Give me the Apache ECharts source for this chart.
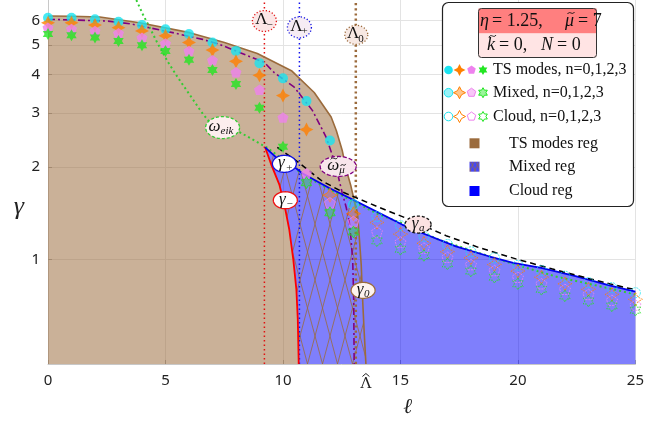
<!DOCTYPE html>
<html><head><meta charset="utf-8">
<script src="https://cdn.jsdelivr.net/npm/echarts@6/dist/echarts.min.js"></script>
<style>html,body{margin:0;padding:0;background:#fff}#c{width:647px;height:428px}</style>
</head><body><div id="c"></div>
<script>
// ---------- axes ----------
const xTicks = [0, 5, 10, 15, 20, 25];
const LAMBDA_HAT = 13.53;
const yTicks = [1, 2, 3, 4, 5, 6];
const YMIN = 0.457, YMAX = 7;
const lambdaMinus = 9.21, lambdaPlus = 10.70, lambda0 = 13.10;

// ---------- mode frequencies, l = 0..25 ----------
const ell = Array.from({length: 26}, (_, i) => i);
const mode0 = [6.13,6.13,6.06,5.95,5.80,5.62,5.42,5.09,4.78,4.36,3.89,3.28,2.44,1.51,1.38,1.29,1.19,1.12,1.06,1.013,0.958,0.921,0.883,0.841,0.810,0.780];
const mode1 = [5.90,5.90,5.80,5.69,5.55,5.35,5.09,4.81,4.42,3.98,3.42,2.65,1.62,1.41,1.32,1.21,1.13,1.06,1.013,0.963,0.917,0.876,0.834,0.800,0.770,0.742];
const mode2 = [5.69,5.63,5.55,5.46,5.28,5.05,4.78,4.46,4.07,3.57,2.90,1.91,1.53,1.33,1.23,1.14,1.09,1.017,0.963,0.921,0.876,0.834,0.800,0.770,0.737,0.711];
const mode3 = [5.42,5.37,5.28,5.15,4.99,4.78,4.47,4.14,3.73,3.12,2.33,1.78,1.42,1.23,1.15,1.08,1.03,0.968,0.917,0.876,0.834,0.800,0.761,0.733,0.706,0.684];
const mixedFrom = [13, 12, 12, 11];
const cloudFrom = [14, 14, 14, 14];

// ---------- curves [l, gamma] ----------
const J = [13.03, 1.56];
const tsBoundary = [[0,6.21],[1,6.20],[2.21,6.16],[3.9,5.90],[6.03,5.48],[7.51,5.09],[8.91,4.69],[10.36,4.12],[11.33,3.50],[12.05,2.91],[12.27,2.63],[12.52,2.27],[12.68,1.98],[12.88,1.75],J];
const gamma0 = [J,[13.17,1.42],[13.24,1.205],[13.33,0.963],[13.37,0.80],[13.45,0.593],[LAMBDA_HAT,YMIN]];
const gammaPlusUpper = [[9.24,2.32],[9.71,2.15],[10.57,1.98],[10.82,1.91],[11.97,1.71],J];
const gammaPlusLower = [J,[15.07,1.30],[15.92,1.22],[17.36,1.104],[18.76,1.025],[19.80,0.976],[20.99,0.94],[22.45,0.883],[23.85,0.826],[25,0.786]];
const gammaMinus = [[9.24,2.32],[9.51,2.03],[9.85,1.75],[10.06,1.51],[10.27,1.25],[10.44,1.0],[10.57,0.80],[10.63,0.64],[10.67,YMIN]];
const gammaA = [[9.76,2.32],[10.70,2.06],[11.67,1.80],[12.61,1.65],[14.01,1.488],[15.49,1.34],[16.94,1.196],[18.34,1.094],[19.91,1.005],[21.44,0.933],[23.0,0.868],[24.58,0.810],[25,0.80]];
const omegaMu = [[0,6.06],[2.5,5.98],[3.48,5.86],[5.31,5.48],[6.58,5.21],[7.30,5.02],[9.21,4.38],[9.63,4.06],[10.48,3.64],[11.25,3.06],[11.63,2.69],[11.84,2.50],[12.22,2.06],[12.52,1.65],[12.69,1.48],[12.82,1.33],[12.90,1.16],[12.97,0.985],[13.01,0.742],[13.03,YMIN]];
const omegaEik = [[3.76,7.0],[4.04,6.28],[4.33,5.69],[4.68,5.03],[5.11,4.39],[5.53,3.91],[6.59,2.98],[7.0,2.73],[8.15,2.60],[9.30,2.32],[10.14,2.08],[10.70,1.93],[11.67,1.74],[13.12,1.53],[14.09,1.40],[15.24,1.30],[16.64,1.16],[18.04,1.069],[19.61,0.978],[21.60,0.881],[23.13,0.830],[25,0.770]];

// ---------- annotations ----------
const annos = [
  {m:'Λ', s:'−', at:[9.21,5.98], rx:12, ry:10.5, fill:'#fce6e6', stroke:'#e01010', dash:[1.2,2], it:false, mdx:-3, sdx:2},
  {m:'Λ', s:'+', at:[10.70,5.70], rx:12, ry:10.5, fill:'#f6ecf4', stroke:'#1010e0', dash:[1.2,2], it:false, mdx:-3, sdx:2},
  {m:'Λ', s:'0', at:[13.12,5.39], rx:11.5, ry:9.5, fill:'#f7e8e2', stroke:'#9b6b3c', dash:[1.2,2], it:false, mdx:-3, sdx:2},
  {m:'ω', s:'eik', at:[7.43,2.69], rx:17, ry:11, fill:'#fdeeee', stroke:'#33cc33', dash:[3,2], it:true, mdx:-8, sdx:-2},
  {m:'ω', s:'μ', at:[12.35,2.01], rx:18, ry:10, fill:'#f8e6ec', stroke:'#800080', dash:[4,2], it:true, mdx:-5, sdx:1, tilde:true},
  {m:'γ', s:'+', at:[10.06,2.05], rx:12, ry:8.5, fill:'#ffffff', stroke:'#1010e0', dash:null, it:true, mdx:-3, sdx:1},
  {m:'γ', s:'−', at:[10.10,1.56], rx:12, ry:8.5, fill:'#ffffff', stroke:'#ee1010', dash:null, it:true, mdx:-3, sdx:1},
  {m:'γ', s:'0', at:[13.41,0.794], rx:12, ry:8, fill:'#fdf3ef', stroke:'#9b6b3c', dash:null, it:true, mdx:-3, sdx:1},
  {m:'γ', s:'a', at:[15.75,1.30], rx:13, ry:8.5, fill:'#fce2e2', stroke:'#111', dash:[3,2], it:true, mdx:-3, sdx:1}
];

// ---------- styles ----------
const BROWN = '#9b6b3c';
const SHAPES = {
  star4: [[0,-10],[3.4,-3.4],[10,0],[3.4,3.4],[0,10],[-3.4,3.4],[-10,0],[-3.4,-3.4]],
  pent: [[0,-10],[9.51,-3.09],[5.88,8.09],[-5.88,8.09],[-9.51,-3.09]],
  star6: [[0,-10],[2.887,-5],[8.66,-5],[5.774,0],[8.66,5],[2.887,5],[0,10],[-2.887,5],[-8.66,5],[-5.774,0],[-8.66,-5],[-2.887,-5]]
};
const toPath = pts => 'path://M' + pts.map(p => p[0] + ',' + p[1]).join('L') + 'Z';
const modes = [
  {vals: mode0, color:'#19e3f0', rgb:'25,227,240', sym:'circle', shape:null, size:10},
  {vals: mode1, color:'#ff8000', rgb:'255,128,0', sym:toPath(SHAPES.star4), shape:SHAPES.star4, size:14},
  {vals: mode2, color:'#ee82ee', rgb:'238,130,238', sym:toPath(SHAPES.pent), shape:SHAPES.pent, size:11},
  {vals: mode3, color:'#22e622', rgb:'34,230,34', sym:toPath(SHAPES.star6), shape:SHAPES.star6, size:12}
];

function hatch(w, h, bg, lw) {
  const c = document.createElement('canvas'); c.width = w; c.height = h;
  const g = c.getContext('2d');
  g.fillStyle = bg; g.fillRect(0, 0, w, h);
  g.strokeStyle = BROWN; g.lineWidth = lw;
  for (const dx of [-w, 0, w]) {
    g.beginPath(); g.moveTo(dx, 0); g.lineTo(dx + w, h); g.stroke();
    g.beginPath(); g.moveTo(dx + w, 0); g.lineTo(dx, h); g.stroke();
  }
  return c;
}
const hatchImg = hatch(15, 56, 'rgba(0,0,250,0.5)', 0.8);
const hatchLegend = hatch(5, 10, 'rgba(40,40,240,0.85)', 0.7);

const tsPoly = [[0,YMIN], ...tsBoundary, ...gammaPlusUpper.slice(0,-1).reverse().slice(0,-1), ...gammaMinus];
const mixedPoly = [...gammaMinus, ...gamma0.slice().reverse(), ...gammaPlusUpper.slice(1,-1).reverse()];
const cloudPoly = [...gamma0, [25,YMIN], ...gammaPlusLower.slice(1).reverse()];

function ellipsePts(cx, cy, rx, ry) {
  const out = [];
  for (let k = 0; k < 60; k++) { const t = k / 60 * 2 * Math.PI; out.push([cx + rx * Math.cos(t), cy + ry * Math.sin(t)]); }
  return out;
}
function tildeEl(cx, cy, w, z) {
  return {type:'bezierCurve', z: z,
    shape:{x1:cx - w / 2, y1:cy + 1, x2:cx + w / 2, y2:cy - 1, cpx1:cx - w / 6, cpy1:cy - 2.8, cpx2:cx + w / 6, cpy2:cy + 2.8},
    style:{stroke:'#111', lineWidth:0.9, fill:null}};
}
function polySeries(name, pts, fill) {
  return {
    type:'custom', name, silent:true, z:1, clip:true, data:[[0,1]],
    encode:{x:0, y:1},
    renderItem: (p, api) => ({type:'polygon', shape:{points: pts.map(q => api.coord(q))}, style:{fill, stroke:null}})
  };
}
function lineSeries(name, data, color, width, type, z) {
  return {type:'line', name, data, showSymbol:false, symbol:'none', silent:true, z: z || 3,
    lineStyle:{color, width, type}, animation:false};
}

const series = [
  polySeries('TS modes reg', tsPoly, 'rgba(155,107,60,0.53)'),
  polySeries('Mixed reg', mixedPoly, {image: hatchImg, repeat:'repeat'}),
  polySeries('Cloud reg', cloudPoly, 'rgba(0,0,250,0.5)'),
  lineSeries('Λ-', [[lambdaMinus,YMIN],[lambdaMinus,YMAX]], '#e01010', 1.5, [1.5,3]),
  lineSeries('Λ+', [[lambdaPlus,YMIN],[lambdaPlus,YMAX]], '#1010ee', 1.5, [1.5,3]),
  lineSeries('Λ0', [[lambda0,YMIN],[lambda0,YMAX]], BROWN, 2.5, [2.2,3]),
  lineSeries('ω_eik', omegaEik, '#33cc33', 2, [2,3]),
  lineSeries('ω_μ', omegaMu, '#800080', 1.6, [7,3,2,3]),
  lineSeries('TS boundary', [...tsBoundary, ...gamma0.slice(1)], BROWN, 1.6, 'solid'),
  lineSeries('γ-', gammaMinus, '#ff0000', 1.8, 'solid'),
  lineSeries('γ+', [...gammaPlusUpper, ...gammaPlusLower.slice(1)], '#0000ee', 1.8, 'solid'),
  lineSeries('γa', gammaA, '#000', 1.5, [6,4], 4)
];

modes.forEach((m, n) => {
  const pts = ell.map(l => [l, m.vals[l]]);
  const filled = pts.slice(0, mixedFrom[n]);
  const mixed = pts.slice(mixedFrom[n], cloudFrom[n]);
  const cloud = pts.slice(cloudFrom[n]);
  const base = {type:'scatter', symbol:m.sym, symbolSize:m.size, symbolKeepAspect:true, silent:true, z:5 + n * 0.1};
  series.push(Object.assign({}, base, {name:'TS n=' + n, data:filled, itemStyle:{color:m.color, borderWidth:0}}));
  series.push(Object.assign({}, base, {name:'Mixed n=' + n, data:mixed, itemStyle:{color:'rgba(' + m.rgb + ',0.45)', borderColor:m.color, borderWidth:1}}));
  series.push(Object.assign({}, base, {name:'Cloud n=' + n, data:cloud, itemStyle:{color:'rgba(255,255,255,0)', borderColor:m.color, borderWidth:1, borderType:[2,1]}}));
});

series.push({
  type:'custom', name:'labels', silent:true, z:10, clip:false,
  data: annos.map((a, i) => [a.at[0], a.at[1], i]), encode:{x:0, y:1},
  renderItem: (p, api) => {
    const a = annos[p.dataIndex];
    const c = api.coord([api.value(0), api.value(1)]);
    const font = a.it ? 'italic' : 'normal';
    const kids = [
      {type:'polygon', shape:{points: ellipsePts(c[0], c[1], a.rx, a.ry)},
       style:{fill:a.fill, stroke:a.stroke, lineWidth:1.3, lineDash:a.dash}},
      {type:'text', x:c[0] + a.mdx, y:c[1] - 1, style:{text:a.m, fill:'#111', fontFamily:'Liberation Serif', fontStyle:font, fontSize:17, align:'center', verticalAlign:'middle'}},
      {type:'text', x:c[0] + a.sdx, y:c[1] + 4, style:{text:a.s, fill:'#111', fontFamily:'Liberation Serif', fontStyle:font, fontSize:11, align:'left', verticalAlign:'middle'}}
    ];
    if (a.tilde) {
      kids.push(tildeEl(c[0] + a.mdx + 1, c[1] - 8, 7));
      kids.push(tildeEl(c[0] + a.sdx + 4, c[1] - 1.5, 5));
    }
    return {type:'group', children:kids};
  }
});
// hat over the Λ tick label
series.push({
  type:'custom', name:'hat', silent:true, z:10, clip:false, data:[[LAMBDA_HAT, YMIN]], encode:{x:0, y:1},
  renderItem: (p, api) => {
    const c = api.coord([api.value(0), api.value(1)]);
    return {type:'polyline', shape:{points:[[c[0] - 3.5, c[1] + 12.5], [c[0], c[1] + 9.5], [c[0] + 3.5, c[1] + 12.5]]}, style:{stroke:'#222', lineWidth:1, fill:null}};
  }
});

// ---------- legend (drawn) ----------
const LX = [448.5, 459.5, 471.5, 483];
const rowsY = [70, 92.7, 116.5];
const txt = (x, y, text, size, italic, align) => ({type:'text', x, y, z:23, style:{text, fontFamily:'Liberation Serif', fontSize:size, fontStyle: italic ? 'italic' : 'normal', fill:'#111', align: align || 'left', verticalAlign:'middle'}});
const legendEls = [
  {type:'rect', shape:{x:442.5, y:2.5, width:191, height:204, r:6}, style:{fill:'#fff', stroke:'#222', lineWidth:1.2}, z:20},
  {type:'rect', shape:{x:478.5, y:8.5, width:118, height:25}, style:{fill:'#ff7f7f'}, z:21},
  {type:'rect', shape:{x:478.5, y:33.5, width:118, height:24}, style:{fill:'#ffe4e4'}, z:21},
  {type:'rect', shape:{x:478.5, y:8.5, width:118, height:49, r:3}, style:{fill:null, stroke:'#333', lineWidth:1}, z:22},
  txt(480, 21, 'η', 18, true), txt(492, 21, '= 1.25,', 18, false),
  txt(565, 21, 'μ', 18, true), tildeEl(571, 13, 7, 23), txt(578, 21, '= 7', 18, false),
  txt(487, 45, 'k', 18, true), tildeEl(492.5, 36, 7, 23), txt(499, 45, '= 0,', 18, false),
  txt(541, 45, 'N', 18, true), txt(557, 45, '= 0', 18, false)
];
const rowText = ['TS modes, n=0,1,2,3', 'Mixed, n=0,1,2,3', 'Cloud, n=0,1,2,3'];
rowsY.forEach((y, r) => {
  modes.forEach((m, n) => {
    let style;
    if (r === 0) style = {fill:m.color, stroke:null};
    else if (r === 1) style = {fill:'rgba(' + m.rgb + ',0.45)', stroke:m.color, lineWidth:1};
    else style = {fill:'#fff', stroke:m.color, lineWidth:1};
    const s = (m.size - 2) / 20;
    if (m.shape === null) legendEls.push({type:'circle', shape:{cx:LX[n], cy:y, r:4.3}, style, z:23});
    else legendEls.push({type:'polygon', shape:{points: m.shape.map(p => [LX[n] + p[0] * s, y + p[1] * s])}, style, z:23});
  });
  legendEls.push(txt(493, y, rowText[r], 16, false));
});
const regY = [143.3, 166.7, 191];
const regFill = [BROWN, {image:hatchLegend, repeat:'repeat'}, '#0000ff'];
const regText = ['TS modes reg', 'Mixed reg', 'Cloud reg'];
regY.forEach((y, i) => {
  legendEls.push({type:'rect', shape:{x:469.5, y:y - 5, width:10, height:10}, style:{fill:regFill[i]}, z:23});
  legendEls.push(txt(509, y, regText[i], 16, false));
});

const chart = echarts.init(document.getElementById('c'), null, {renderer:'canvas'});
chart.setOption({
  animation:false,
  backgroundColor:'#fff',
  grid:{left:48, right:9, top:0, bottom:64, containLabel:false},
  xAxis:{
    type:'value', min:0, max:25,
    name:'ℓ', nameLocation:'middle', nameGap:33,
    nameTextStyle:{fontFamily:'DejaVu Serif', fontStyle:'italic', fontSize:21, color:'#222', padding:[0,0,0,132]},
    axisLine:{show:true, onZero:false, lineStyle:{color:'#c8c8c8'}},
    axisTick:{show:true, inside:true, length:4, customValues:xTicks, lineStyle:{color:'#aaa'}},
    axisLabel:{customValues:[0,5,10,LAMBDA_HAT,15,20,25], margin:9, color:'#222', fontSize:15, fontFamily:'Noto Sans',
      formatter: v => Math.abs(v - LAMBDA_HAT) < 1e-6 ? '{h|Λ}' : String(v),
      rich:{h:{fontFamily:'DejaVu Serif', fontSize:15, color:'#222', padding:[4,0,0,0]}}},
    splitLine:{show:true, lineStyle:{color:'#e3e3e3', width:1}}
  },
  yAxis:{
    type:'log', logBase:10, min:YMIN, max:YMAX,
    name:'{sp| }\n{g|γ}', nameLocation:'middle', nameRotate:0, nameGap:24,
    nameTextStyle:{color:'#222', rich:{
      sp:{fontSize:10, lineHeight:50},
      g:{fontFamily:'Liberation Serif', fontStyle:'italic', fontSize:26, lineHeight:26, color:'#222'}}},
    axisLine:{show:true, lineStyle:{color:'#c8c8c8'}},
    axisTick:{show:true, inside:true, length:4, customValues:yTicks, lineStyle:{color:'#aaa'}},
    axisLabel:{customValues:yTicks, margin:8, color:'#222', fontSize:15, fontFamily:'Noto Sans',
      formatter: v => String(Math.round(v))},
    splitLine:{show:true, lineStyle:{color:'#e3e3e3', width:1}},
    minorTick:{show:false}, minorSplitLine:{show:false}
  },
  series,
  graphic:{elements: legendEls}
});
</script></body></html>
